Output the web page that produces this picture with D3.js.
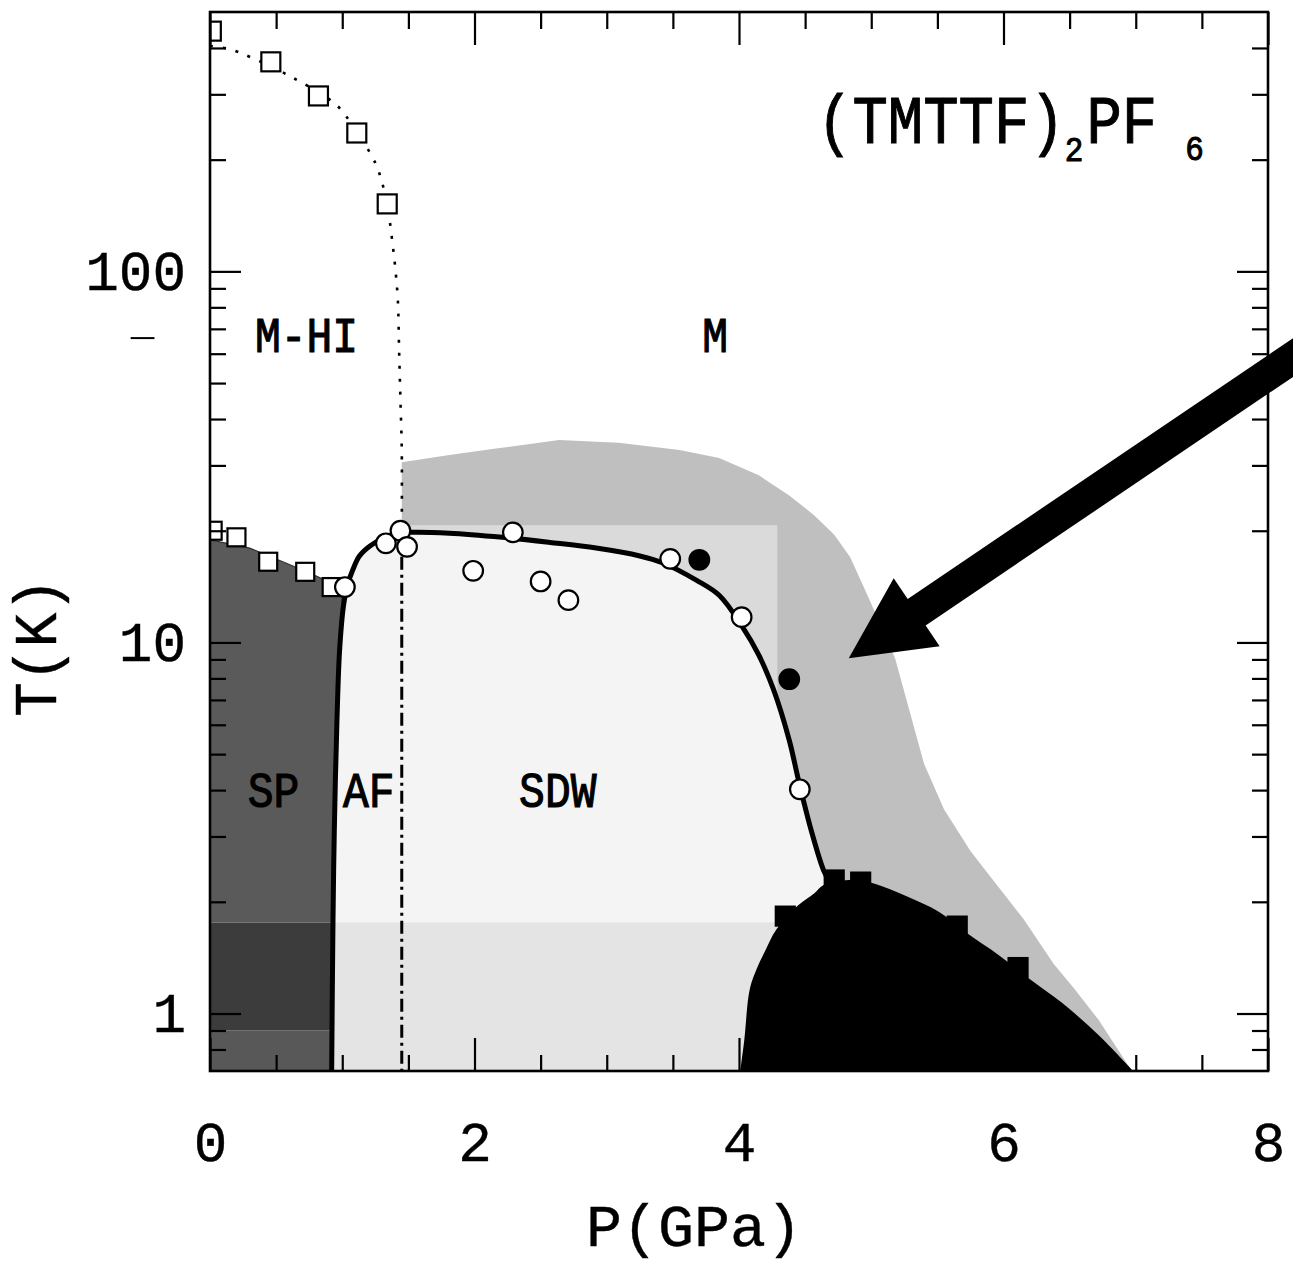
<!DOCTYPE html>
<html><head><meta charset="utf-8">
<script src="https://cdn.jsdelivr.net/npm/d3@7"></script>
<style>body{margin:0;background:#fff}svg{display:block}</style>
</head><body>
<svg id="c" width="1293" height="1266"></svg>
<script>
// ---------------- data (P in GPa, T in K) ----------------
const xMajorTicks = [0, 2, 4, 6, 8];
const xMinorTicks = [0.5, 1, 1.5, 2.5, 3, 3.5, 4.5, 5, 5.5, 6.5, 7, 7.5];
const yMajorTicks = [1, 10, 100];
const yMinorTicks = [0.8, 0.9, 2, 3, 4, 5, 6, 7, 8, 9, 20, 30, 40, 50, 60, 70, 80, 90, 200, 300, 400];

const mhiSquares = [[0.01, 444], [0.46, 367], [0.82, 297], [1.11, 236], [1.34, 152]];
const mhiLine = [[0, 405], [0.15, 397], [0.32, 376], [0.63, 332], [0.94, 284], [1.06, 253], [1.25, 196],
  [1.30, 174], [1.34, 152], [1.36, 136], [1.38, 119], [1.40, 103], [1.42, 84], [1.43, 61], [1.44, 45], [1.45, 33], [1.45, 20]];
const afSdwDivider = [[1.45, 20], [1.45, 0.7]];

const spSquares = [[0.02, 20.0], [0.20, 19.2], [0.44, 16.5], [0.72, 15.5], [0.92, 14.1]];
const openCircles = [[1.02, 14.1], [1.33, 18.5], [1.44, 20.0], [1.49, 18.1], [1.99, 15.6], [2.29, 19.8],
  [2.50, 14.6], [2.71, 13.0], [3.48, 16.8], [4.02, 11.7], [4.46, 4.02]];
const filledCircles = [[3.70, 16.7], [4.38, 7.96]];
const scSquares = [[4.35, 1.83], [4.72, 2.29], [4.92, 2.26], [5.65, 1.72], [6.11, 1.33]];

const boundary = [[0.92, 0.70], [0.93, 1.785], [0.94, 3.12], [0.96, 6.17], [0.98, 9.53], [1.01, 12.6], [1.04, 14.3],
  [1.08, 15.7], [1.13, 17.1], [1.21, 18.2], [1.30, 19.0], [1.40, 19.6], [1.51, 19.8], [1.81, 19.7], [2.21, 19.2],
  [2.57, 18.6], [2.92, 17.96], [3.25, 17.1], [3.42, 16.4], [3.68, 14.7], [3.85, 13.4], [4.02, 11.1], [4.15, 9.24],
  [4.26, 7.48], [4.38, 5.45], [4.45, 4.25], [4.55, 3.08], [4.64, 2.43], [4.69, 2.25]];

const spTop = [[0, 18.9], [0.30, 17.96], [0.55, 16.5], [0.75, 15.4], [0.91, 14.5], [1.00, 13.8]];
const spEdge = [[0.98, 9.53], [0.96, 6.17], [0.94, 3.12], [0.93, 1.785], [0.92, 0.70], [0, 0.70]];
const spBandEdges = [0.7, 0.9, 1.76, 30];

const envelope = [[1.45, 30.6], [1.81, 32.0], [2.19, 33.4], [2.64, 35.1], [3.09, 34.5], [3.55, 33.0], [3.85, 31.4],
  [4.15, 28.2], [4.38, 24.9], [4.57, 22.0], [4.72, 19.5], [4.84, 17.0], [4.98, 13.2], [5.18, 9.07], [5.29, 6.53],
  [5.40, 4.70], [5.55, 3.55], [5.75, 2.74], [5.95, 2.22], [6.15, 1.80], [6.38, 1.36], [6.54, 1.16], [6.72, 0.96],
  [6.97, 0.70], [1.45, 0.70]];
const innerBox = {p0: 1.45, p1: 4.29, t0: 0.7, t1: 20.7};
const lowBand = {p0: 0.9, p1: 4.29, t0: 0.7, t1: 1.76};

const scDome = [[4.01, 0.70], [4.04, 0.848], [4.08, 1.156], [4.13, 1.31], [4.20, 1.48], [4.28, 1.68], [4.45, 1.96],
  [4.57, 2.11], [4.64, 2.22], [4.83, 2.29], [5.00, 2.25], [5.28, 2.06], [5.51, 1.88], [5.72, 1.65], [5.96, 1.44],
  [6.19, 1.245], [6.44, 1.07], [6.72, 0.874], [6.98, 0.70]];

const regionNames = ["M-HI", "M", "SP", "AF", "SDW"];
const regionP = [0.73, 3.82, 0.48, 1.20, 2.63];
const regionT = [60.6, 60.6, 3.60, 3.60, 3.60];

const titleParts = ["(TMTTF)", "2", "PF", "6"];
const titleAnchor = [4.59, 221.8];
const arrowTip = [4.83, 9.07];
const arrowTail = [8.30, 62.3];
const strayDash = [[-0.60, 66.1], [-0.42, 66.1]];

// ---------------- drawing ----------------
const FONT = "'Liberation Mono','Courier New',monospace";
const svg = d3.select("#c");
const x = d3.scaleLinear().domain([0, 8]).range([210, 1268]);
const y = d3.scaleLog().domain([0.7, 500]).range([1071, 12]);
const [X0, X1] = x.range(); const [Y1, Y0] = y.range();
const P = d => [x(d[0]), y(d[1])];
const lin = d3.line().x(d => x(d[0])).y(d => y(d[1]));
const smooth = d3.line().x(d => x(d[0])).y(d => y(d[1])).curve(d3.curveCatmullRom.alpha(0.5));

const defs = svg.append("defs");
defs.append("clipPath").attr("id", "plot").append("rect")
  .attr("x", X0).attr("y", Y0).attr("width", X1 - X0).attr("height", Y1 - Y0);
const ucPath = smooth(boundary) + "L" + P([4.69, 0.7]).join(",") + "L" + P([0.92, 0.7]).join(",") + "Z";
defs.append("clipPath").attr("id", "uc").append("path").attr("d", ucPath);
const spPath = lin(spTop.concat(spEdge)) + "Z";
defs.append("clipPath").attr("id", "spc").append("path").attr("d", spPath);

const g = svg.append("g").attr("clip-path", "url(#plot)");

// shaded regions
g.append("path").attr("d", lin(envelope) + "Z").attr("fill", "#bfbfbf");
g.append("rect").attr("x", x(innerBox.p0)).attr("y", y(innerBox.t1))
  .attr("width", x(innerBox.p1) - x(innerBox.p0)).attr("height", y(innerBox.t0) - y(innerBox.t1)).attr("fill", "#dadada");
g.append("path").attr("d", ucPath).attr("fill", "#f4f4f4");
g.append("rect").attr("clip-path", "url(#uc)").attr("x", x(lowBand.p0)).attr("y", y(lowBand.t1))
  .attr("width", x(lowBand.p1) - x(lowBand.p0)).attr("height", y(lowBand.t0) - y(lowBand.t1)).attr("fill", "#e4e4e4");

const spColors = ["#585858", "#3c3c3c", "#5a5a5a"];
const spG = g.append("g").attr("clip-path", "url(#spc)");
d3.pairs(spBandEdges).forEach((b, i) => {
  spG.append("rect").attr("x", X0).attr("width", x(1.2) - X0)
    .attr("y", y(b[1])).attr("height", y(b[0]) - y(b[1])).attr("fill", spColors[i]);
});
g.append("path").attr("d", spPath).attr("fill", "none").attr("stroke", "#333").attr("stroke-width", 1.2);

g.append("path").attr("d", smooth(scDome) + "Z").attr("fill", "#000");

// lines
g.append("path").attr("d", smooth(mhiLine)).attr("fill", "none").attr("stroke", "#000")
  .attr("stroke-width", 2.6).attr("stroke-dasharray", "3,10");
g.append("path").attr("d", lin(afSdwDivider)).attr("fill", "none").attr("stroke", "#000")
  .attr("stroke-width", 3).attr("stroke-dasharray", "13,5,3,5");
g.append("path").attr("d", smooth(boundary)).attr("fill", "none").attr("stroke", "#000")
  .attr("stroke-width", 5).attr("stroke-linejoin", "round");

// markers
const sq = (data, s, fill) => g.append("g").selectAll("rect").data(data).join("rect")
  .attr("x", d => x(d[0]) - s / 2).attr("y", d => y(d[1]) - s / 2).attr("width", s).attr("height", s)
  .attr("fill", fill).attr("stroke", "#000").attr("stroke-width", 2.2);
sq(mhiSquares, 19, "#fff");
sq(spSquares, 18, "#fff");
sq(scSquares, 19, "#000");
const circ = (data, fill) => g.append("g").selectAll("circle").data(data).join("circle")
  .attr("cx", d => x(d[0])).attr("cy", d => y(d[1])).attr("r", 9.8)
  .attr("fill", fill).attr("stroke", "#000").attr("stroke-width", 2.2);
circ(openCircles, "#fff");
circ(filledCircles, "#000");

// axes
function styleAxis(a, labels) {
  a.select(".domain").remove();
  a.selectAll("line").attr("stroke", "#000").attr("stroke-width", 2.2);
  a.attr("font-family", FONT).attr("font-size", 56);
  if (labels) a.selectAll("text").attr("fill", "#000").attr("stroke", "#000").attr("stroke-width", 0.4);
}
const fmt = d3.format("~g");
styleAxis(svg.append("g").attr("transform", `translate(0,${Y1})`)
  .call(d3.axisBottom(x).tickValues(xMajorTicks).tickSizeInner(-33).tickSizeOuter(0).tickPadding(50).tickFormat(fmt)), true);
styleAxis(svg.append("g").attr("transform", `translate(0,${Y1})`)
  .call(d3.axisBottom(x).tickValues(xMinorTicks).tickSizeInner(-16).tickSizeOuter(0).tickFormat("")));
styleAxis(svg.append("g").attr("transform", `translate(0,${Y0})`)
  .call(d3.axisTop(x).tickValues(xMajorTicks).tickSizeInner(-33).tickSizeOuter(0).tickFormat("")));
styleAxis(svg.append("g").attr("transform", `translate(0,${Y0})`)
  .call(d3.axisTop(x).tickValues(xMinorTicks).tickSizeInner(-17).tickSizeOuter(0).tickFormat("")));
styleAxis(svg.append("g").attr("transform", `translate(${X0},0)`)
  .call(d3.axisLeft(y).tickValues(yMajorTicks).tickSizeInner(-31).tickSizeOuter(0).tickPadding(24).tickFormat(fmt)), true);
styleAxis(svg.append("g").attr("transform", `translate(${X0},0)`)
  .call(d3.axisLeft(y).tickValues(yMinorTicks).tickSizeInner(-16).tickSizeOuter(0).tickFormat("")));
styleAxis(svg.append("g").attr("transform", `translate(${X1},0)`)
  .call(d3.axisRight(y).tickValues(yMajorTicks).tickSizeInner(-31).tickSizeOuter(0).tickFormat("")));
styleAxis(svg.append("g").attr("transform", `translate(${X1},0)`)
  .call(d3.axisRight(y).tickValues(yMinorTicks).tickSizeInner(-16).tickSizeOuter(0).tickFormat("")));
svg.append("rect").attr("x", X0).attr("y", Y0).attr("width", X1 - X0).attr("height", Y1 - Y0)
  .attr("fill", "none").attr("stroke", "#000").attr("stroke-width", 2.6);
svg.append("path").attr("d", lin(strayDash)).attr("stroke", "#000").attr("stroke-width", 2);

// axis titles
svg.append("text").attr("transform", `translate(${(X0 + X1) / 2 - 45},1246)`)
  .attr("text-anchor", "middle").attr("font-family", FONT).attr("font-size", 60)
  .attr("stroke", "#000").attr("stroke-width", 0.4).text("P(GPa)");
svg.append("text").attr("transform", `translate(56,${(Y0 + Y1) / 2 + 106}) rotate(-90) scale(1,1.05)`)
  .attr("text-anchor", "middle").attr("font-family", FONT).attr("font-size", 58)
  .attr("stroke", "#000").attr("stroke-width", 0.4).text("T(K)");

// region labels
svg.append("g").selectAll("text").data(regionNames).join("text")
  .attr("transform", (d, i) => `translate(${x(regionP[i])},${y(regionT[i])}) scale(1,1.15)`)
  .attr("text-anchor", "middle").attr("font-family", FONT).attr("font-size", 43)
  .attr("fill", "#000").attr("stroke", "#000").attr("stroke-width", 1).text(d => d);

// title
const tt = svg.append("text").attr("transform", `translate(${x(titleAnchor[0])},${y(titleAnchor[1])}) scale(1,1.15)`)
  .attr("font-family", FONT).attr("font-size", 59).attr("stroke", "#000").attr("stroke-width", 0.9);
tt.append("tspan").text(titleParts[0]);
tt.append("tspan").attr("font-size", 31).attr("dy", 16).text(titleParts[1]);
tt.append("tspan").attr("dy", -16).attr("dx", 3).text(titleParts[2]);
tt.append("tspan").attr("font-size", 31).attr("dy", 15).attr("dx", 28).text(titleParts[3]);

// arrow
(function () {
  const t = P(arrowTip), e = P(arrowTail);
  const L = Math.hypot(e[0] - t[0], e[1] - t[1]);
  const u = [(e[0] - t[0]) / L, (e[1] - t[1]) / L], n = [-u[1], u[0]];
  const hl = 82, hw = 41, sw = 16;
  const b = [t[0] + u[0] * hl, t[1] + u[1] * hl];
  const pts = [t,
    [b[0] + n[0] * hw, b[1] + n[1] * hw], [b[0] + n[0] * sw, b[1] + n[1] * sw],
    [e[0] + n[0] * sw, e[1] + n[1] * sw], [e[0] - n[0] * sw, e[1] - n[1] * sw],
    [b[0] - n[0] * sw, b[1] - n[1] * sw], [b[0] - n[0] * hw, b[1] - n[1] * hw]];
  svg.append("path").attr("d", d3.line()(pts) + "Z").attr("fill", "#000");
})();
</script>
</body></html>
